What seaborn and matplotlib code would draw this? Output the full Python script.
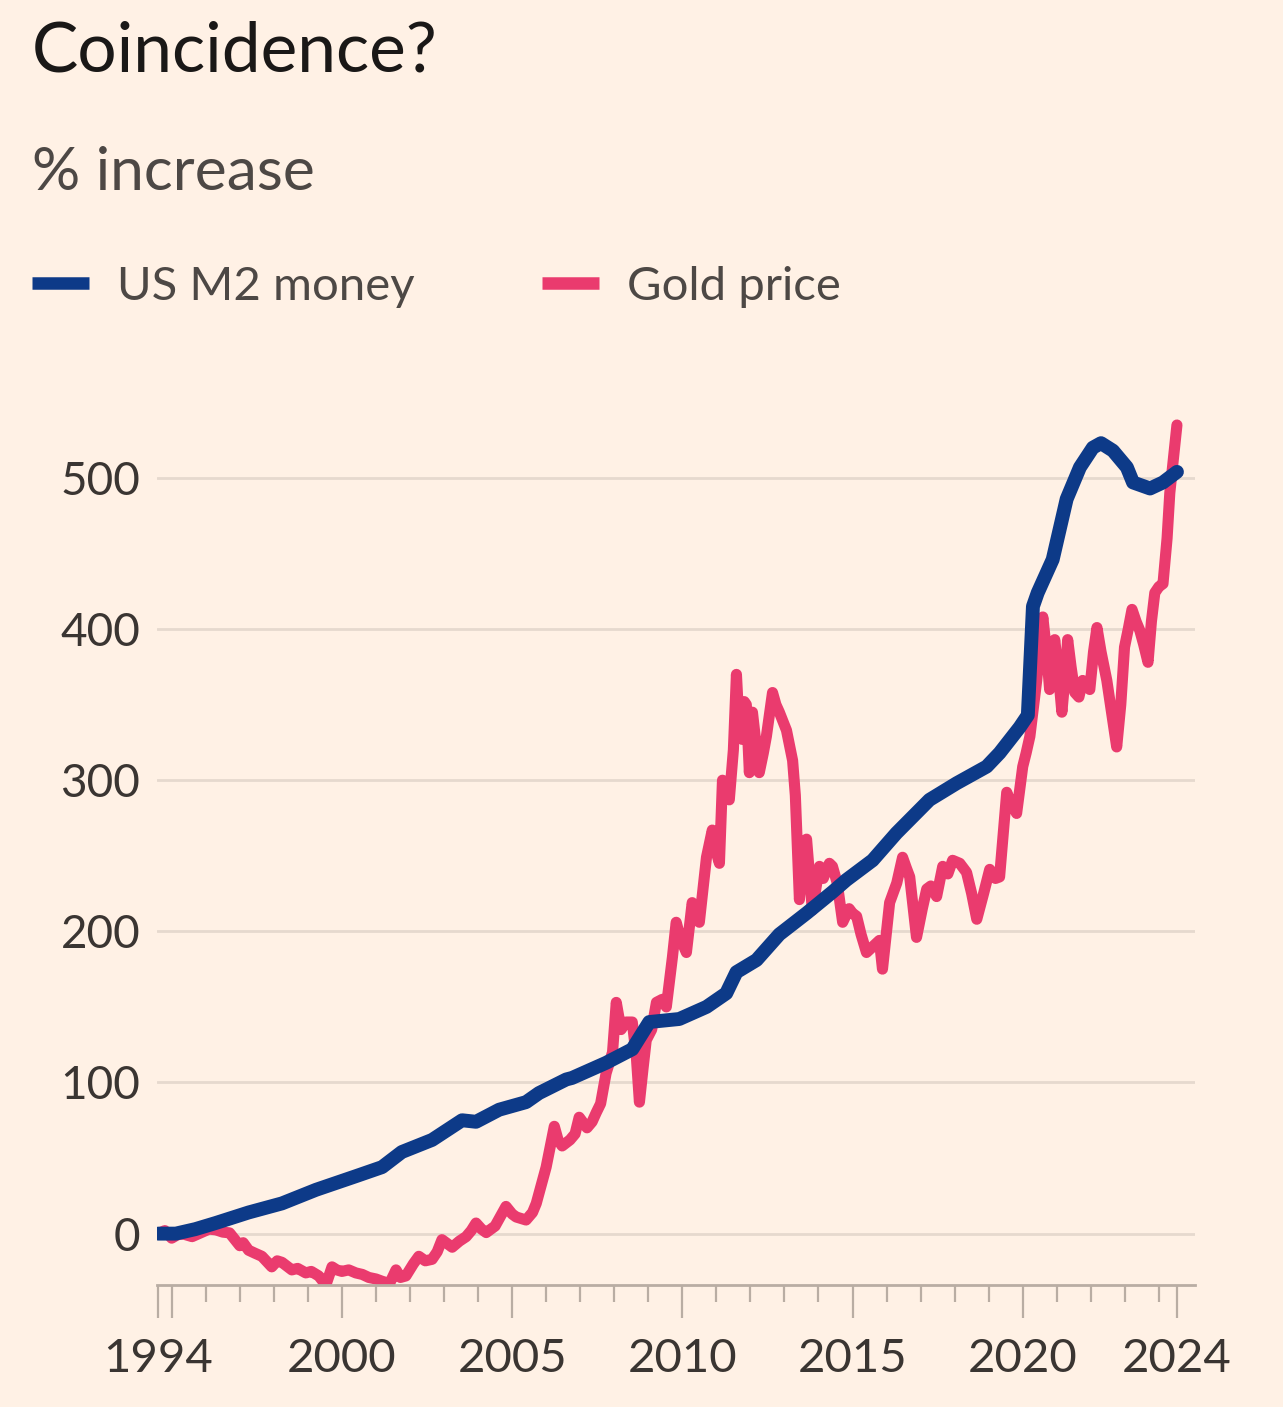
import matplotlib
matplotlib.use("Agg")
import matplotlib.pyplot as plt
import matplotlib.lines as mlines
import seaborn as sns
import pandas as pd

# ---------------- data ----------------
m2_year = [1994.6, 1995.12, 1995.7, 1996.29, 1997.26, 1998.24, 1999.24, 2000.41, 2001.18,
           2001.76, 2002.65, 2003.53, 2003.94, 2004.62, 2005.41, 2005.79, 2006.59, 2006.76,
           2007.76, 2008.53, 2009.03, 2009.91, 2010.71, 2011.29, 2011.59, 2012.18, 2012.85,
           2013.65, 2014.41, 2014.82, 2015.59, 2016.29, 2017.26, 2018.06, 2018.94, 2019.32,
           2019.91, 2020.15, 2020.3, 2020.44, 2020.88, 2021.29, 2021.68, 2022.06, 2022.3,
           2022.65, 2023.06, 2023.24, 2023.74, 2024.12, 2024.53]
m2_value = [0, 0, 3, 7, 14, 20, 29, 38, 44,
            54, 62, 75, 74, 82, 87, 93, 102, 103,
            113, 122, 140, 142, 150, 159, 173, 181, 198,
            212, 226, 234, 247, 265, 287, 298, 309, 318,
            335, 343, 415, 424, 446, 486, 507, 520, 523,
            518, 507, 497, 493, 497, 504]

gold_year = [1994.6, 1994.8, 1995.0, 1995.15, 1995.3, 1995.6, 1995.9, 1996.1, 1996.3, 1996.5,
             1996.7, 1997.0, 1997.1, 1997.26, 1997.45, 1997.65, 1997.94, 1998.1, 1998.24,
             1998.53, 1998.7, 1998.94, 1999.1, 1999.32, 1999.53, 1999.71, 1999.85,
             2000.0, 2000.2, 2000.41, 2000.6, 2000.79, 2001.0, 2001.18, 2001.4, 2001.59,
             2001.72, 2001.88, 2002.1, 2002.26, 2002.45, 2002.65, 2002.8, 2002.94, 2003.24,
             2003.45, 2003.65, 2003.8, 2003.94, 2004.1, 2004.24, 2004.5, 2004.82, 2005.0,
             2005.12, 2005.41, 2005.6, 2005.71, 2006.0, 2006.24, 2006.35, 2006.47, 2006.7,
             2006.85, 2006.97, 2007.2, 2007.35, 2007.47, 2007.6, 2007.76, 2007.95, 2008.06,
             2008.2, 2008.35, 2008.53, 2008.65, 2008.74, 2008.85, 2008.94, 2009.1, 2009.24,
             2009.41, 2009.53, 2009.71, 2009.82, 2009.95, 2010.12, 2010.29, 2010.4, 2010.5,
             2010.71, 2010.88, 2011.0, 2011.09, 2011.18, 2011.3, 2011.38, 2011.5, 2011.59,
             2011.68, 2011.76, 2011.82, 2011.88, 2011.97, 2012.06, 2012.16, 2012.26, 2012.38,
             2012.47, 2012.65, 2012.75, 2012.85, 2013.06, 2013.24, 2013.32, 2013.44, 2013.55,
             2013.65, 2013.82, 2013.92, 2014.03, 2014.14, 2014.24, 2014.32, 2014.41, 2014.55,
             2014.71, 2014.9, 2015.0, 2015.12, 2015.25, 2015.41, 2015.6, 2015.79, 2015.88,
             2016.09, 2016.3, 2016.47, 2016.58, 2016.68, 2016.88, 2017.05, 2017.18, 2017.3,
             2017.47, 2017.65, 2017.8, 2017.94, 2018.15, 2018.35, 2018.5, 2018.65, 2018.85,
             2019.03, 2019.2, 2019.32, 2019.53, 2019.65, 2019.82, 2020.0, 2020.1, 2020.21,
             2020.41, 2020.59, 2020.7, 2020.79, 2020.86, 2020.94, 2021.05, 2021.15, 2021.25,
             2021.32, 2021.42, 2021.53, 2021.65, 2021.76, 2021.87, 2021.97, 2022.08, 2022.18,
             2022.3, 2022.47, 2022.76, 2022.88, 2022.99, 2023.1, 2023.21, 2023.33, 2023.44,
             2023.55, 2023.68, 2023.78, 2023.88, 2024.0, 2024.12, 2024.24, 2024.32, 2024.53]
gold_value = [0, 2, -3, -1, 0, -2, 1, 3, 2.5, 1,
              0.5, -8, -6, -11, -13, -15, -22, -18, -19,
              -24, -23, -26, -25, -28, -34, -22, -24,
              -25, -24, -26, -27, -29, -30, -31.5, -33, -24,
              -29, -28, -20, -15, -18, -17, -12, -4, -9,
              -5, -2, 2, 7, 3, 0.7, 5, 18, 13,
              11, 9, 14, 20, 44, 71, 62, 58, 62,
              66, 77, 70, 74, 80, 86, 106, 120, 153,
              135, 140, 140, 117, 87, 110, 128, 135, 153,
              155, 150, 183, 206, 195, 186, 219, 208, 206,
              249, 267, 252, 245, 300, 290, 287, 320, 370,
              330, 327, 352, 350, 305, 345, 325, 305, 318,
              329, 358, 350, 345, 333, 313, 290, 221, 250,
              261, 214, 228, 243, 235, 241, 245, 243, 232,
              206, 215, 212, 210, 198, 186, 190, 194, 175,
              219, 232, 249, 242, 236, 196, 215, 228, 230,
              223, 243, 238, 247, 245, 239, 225, 208, 225,
              241, 235, 236, 292, 285, 278, 309, 318, 329,
              366, 408, 385, 360, 380, 393, 370, 345, 370,
              393, 375, 358, 355, 366, 362, 360, 385, 401,
              385, 366, 322, 350, 388, 400, 413, 405, 399,
              390, 378, 405, 424, 428, 430, 460, 490, 535]

series_labels = ["US M2 money", "Gold price"]
y_ticks = [0, 100, 200, 300, 400, 500]
x_major = [1994.6, 1995.0, 2000, 2005, 2010, 2015, 2020, 2024.53]
x_major_labels = ["1994", "", "2000", "2005", "2010", "2015", "2020", "2024"]
x_minor = list(range(1996, 2025))

# ---------------- style ----------------
BG = "#FFF1E5"
BLUE = "#0D3A88"
PINK = "#EA3B6E"
TXT = "#3A3532"
GRID = "#E6D9CE"
AXIS = "#B9ADA3"

sns.set_theme(style="white")
plt.rcParams["font.family"] = ["Lato", "DejaVu Sans"]
plt.rcParams["figure.facecolor"] = BG
plt.rcParams["axes.facecolor"] = BG

fig = plt.figure(figsize=(12.83, 14.07), dpi=100)
ax = fig.add_axes([0.1224, 0.0867, 0.809, 0.6166])

m2_df = pd.DataFrame({"year": m2_year, "value": m2_value})
gold_df = pd.DataFrame({"year": gold_year, "value": gold_value})

sns.lineplot(data=gold_df, x="year", y="value", ax=ax, color=PINK, lw=8,
             estimator=None, solid_capstyle="round", solid_joinstyle="round")
sns.lineplot(data=m2_df, x="year", y="value", ax=ax, color=BLUE, lw=10,
             estimator=None, solid_capstyle="round", solid_joinstyle="round")

ax.set_xlim(1994.57, 2025.06)
ax.set_ylim(-34, 540)
ax.set_xlabel("")
ax.set_ylabel("")

ax.set_yticks(y_ticks)
ax.set_yticklabels([str(v) for v in y_ticks])
ax.yaxis.grid(True, color=GRID, lw=2)
ax.xaxis.grid(False)
ax.set_axisbelow(True)
ax.tick_params(axis="y", length=0, pad=12, labelsize=33, labelcolor=TXT)

ax.set_xticks(x_major)
ax.set_xticklabels(x_major_labels)
ax.set_xticks(x_minor, minor=True)
ax.tick_params(axis="x", which="major", length=24, width=1.6, color=AXIS,
               pad=14, labelsize=34, labelcolor=TXT, direction="out", bottom=True)
ax.tick_params(axis="x", which="minor", length=12, width=1.6, color=AXIS,
               direction="out", bottom=True)

for s in ["top", "right", "left"]:
    ax.spines[s].set_visible(False)
ax.spines["bottom"].set_color(AXIS)
ax.spines["bottom"].set_linewidth(2)

# ---------------- titles & legend ----------------
fig.text(32 / 1283, 1 - 72 / 1407, "Coincidence?", fontsize=50, color="#1A1817",
         ha="left", va="baseline")
fig.text(32 / 1283, 1 - 190 / 1407, "% increase", fontsize=43.5, color="#4D4845",
         ha="left", va="baseline")

handles = [mlines.Line2D([], [], color=BLUE, lw=9, solid_capstyle="butt"),
           mlines.Line2D([], [], color=PINK, lw=9, solid_capstyle="butt")]
leg = fig.legend(handles, series_labels, loc="center left",
                 bbox_to_anchor=(32 / 1283, 1 - 287 / 1407), ncol=2, frameon=False,
                 fontsize=34, handlelength=1.2, handletextpad=0.6, columnspacing=2.7,
                 borderpad=0, borderaxespad=0)
for t in leg.get_texts():
    t.set_color("#4D4845")

fig.savefig("out.png", dpi=100, facecolor=BG)
